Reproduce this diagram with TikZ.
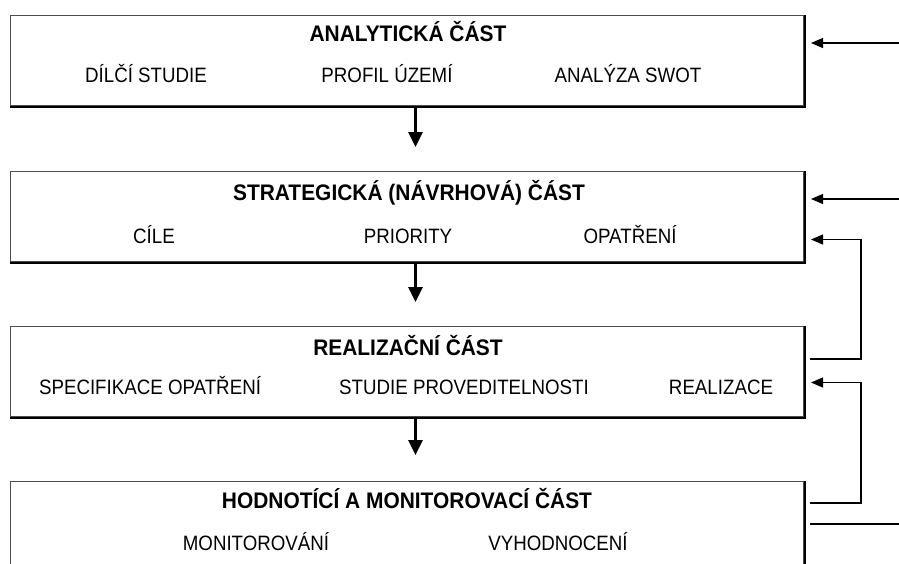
\documentclass[tikz,border=0pt]{standalone}
\usepackage{fontspec}
\setmainfont{Liberation Sans}
\newfontfamily\subf[FakeStretch=0.9]{Liberation Sans}
\newfontfamily\ttlf[FakeStretch=0.93]{Liberation Sans Bold}
\usetikzlibrary{arrows.meta,calc}
\begin{document}
\begin{tikzpicture}[x=1pt,y=-1pt,
  box/.style={draw=black!70, line width=1pt, minimum width=793pt, minimum height=90pt, inner sep=0pt, anchor=north west},
  shadowline/.style={line width=2pt, black},
  ttl/.style={font=\ttlf\fontsize{22.5}{22.5}\selectfont, inner sep=0pt, anchor=base},
  sub/.style={font=\subf\fontsize{20.8}{20.8}\selectfont, inner sep=0pt, anchor=base},
  flow/.style={line width=3pt, shorten >=1pt, -{Triangle[length=15pt,width=14pt]}},
  fb/.style={line width=1.1pt, -{Triangle[length=12pt,width=10pt]}},
  fbl/.style={line width=1.1pt}
]
\useasboundingbox (0,0) rectangle (899,563);
\clip (0,0) rectangle (899,563);
\fill[white] (0,0) rectangle (899,563);

% boxes
\node[box] (b1) at (10,15) {};
\node[box] (b2) at (10,171) {};
\node[box] (b3) at (10,326) {};
\node[box, minimum height=120pt] (b4) at (10,481) {};
\foreach \b in {b1,b2,b3,b4}{
  \draw[shadowline] ([xshift=0.5pt]\b.north east) -- ([xshift=0.5pt,yshift=-0.5pt]\b.south east) -- ([yshift=-0.5pt]\b.south west);
}

% texts box 1
\node[ttl] (t1) at (408,41) {ANALYTICKÁ ČÁST};
\node[sub] (s11) at (146,82.5) {DÍLČÍ STUDIE};
\node[sub] (s12) at (387,82.5) {PROFIL ÚZEMÍ};
\node[sub] (s13) at (628,82.5) {ANALÝZA SWOT};

% texts box 2
\node[ttl] (t2) at (409,200) {STRATEGICKÁ (NÁVRHOVÁ) ČÁST};
\node[sub] (s21) at (154,243.5) {CÍLE};
\node[sub] (s22) at (408,243.5) {PRIORITY};
\node[sub] (s23) at (630,243.5) {OPATŘENÍ};

% texts box 3
\node[ttl] (t3) at (408,355) {REALIZAČNÍ ČÁST};
\node[sub] (s31) at (150,394.5) {SPECIFIKACE OPATŘENÍ};
\node[sub] (s32) at (464,394.5) {STUDIE PROVEDITELNOSTI};
\node[sub] (s33) at (721,394.5) {REALIZACE};

% texts box 4
\node[ttl] (t4) at (407,508) {HODNOTÍCÍ A MONITOROVACÍ ČÁST};
\node[sub] (s41) at (256,550.5) {MONITOROVÁNÍ};
\node[sub] (s42) at (558,550.5) {VYHODNOCENÍ};

% vertical flow arrows
\draw[flow] ([xshift=8.5pt,yshift=-1pt]b1.south) -- ([xshift=8.5pt,yshift=23pt]b2.north);
\draw[flow] ([xshift=8.5pt,yshift=-1pt]b2.south) -- ([xshift=8.5pt,yshift=23pt]b3.north);
\draw[flow] ([xshift=8.5pt,yshift=-1pt]b3.south) -- ([xshift=8.5pt,yshift=25pt]b4.north);

% right side inputs
\coordinate (in1) at (899,43);
\coordinate (in2) at (899,199);
\coordinate (out4) at (899,524);
\coordinate (loopA) at (861,359);
\coordinate (loopB) at (861,503);

\draw[fb] (in1) -- ($(in1 -| b1.east)+(7,0)$);
\draw[fb] (in2) -- ($(in2 -| b2.east)+(7,0)$);
\draw[fb] ($(loopA -| b3.east)+(6,0)$) -- (loopA) |- ($(b2.east)+(7,23)$);
\draw[fb] ($(loopB -| b4.east)+(6,0)$) -- (loopB) |- ($(b3.east)+(7,11)$);
\draw[fbl] ($(out4 -| b4.east)+(6,0)$) -- (out4);
\end{tikzpicture}
\end{document}
